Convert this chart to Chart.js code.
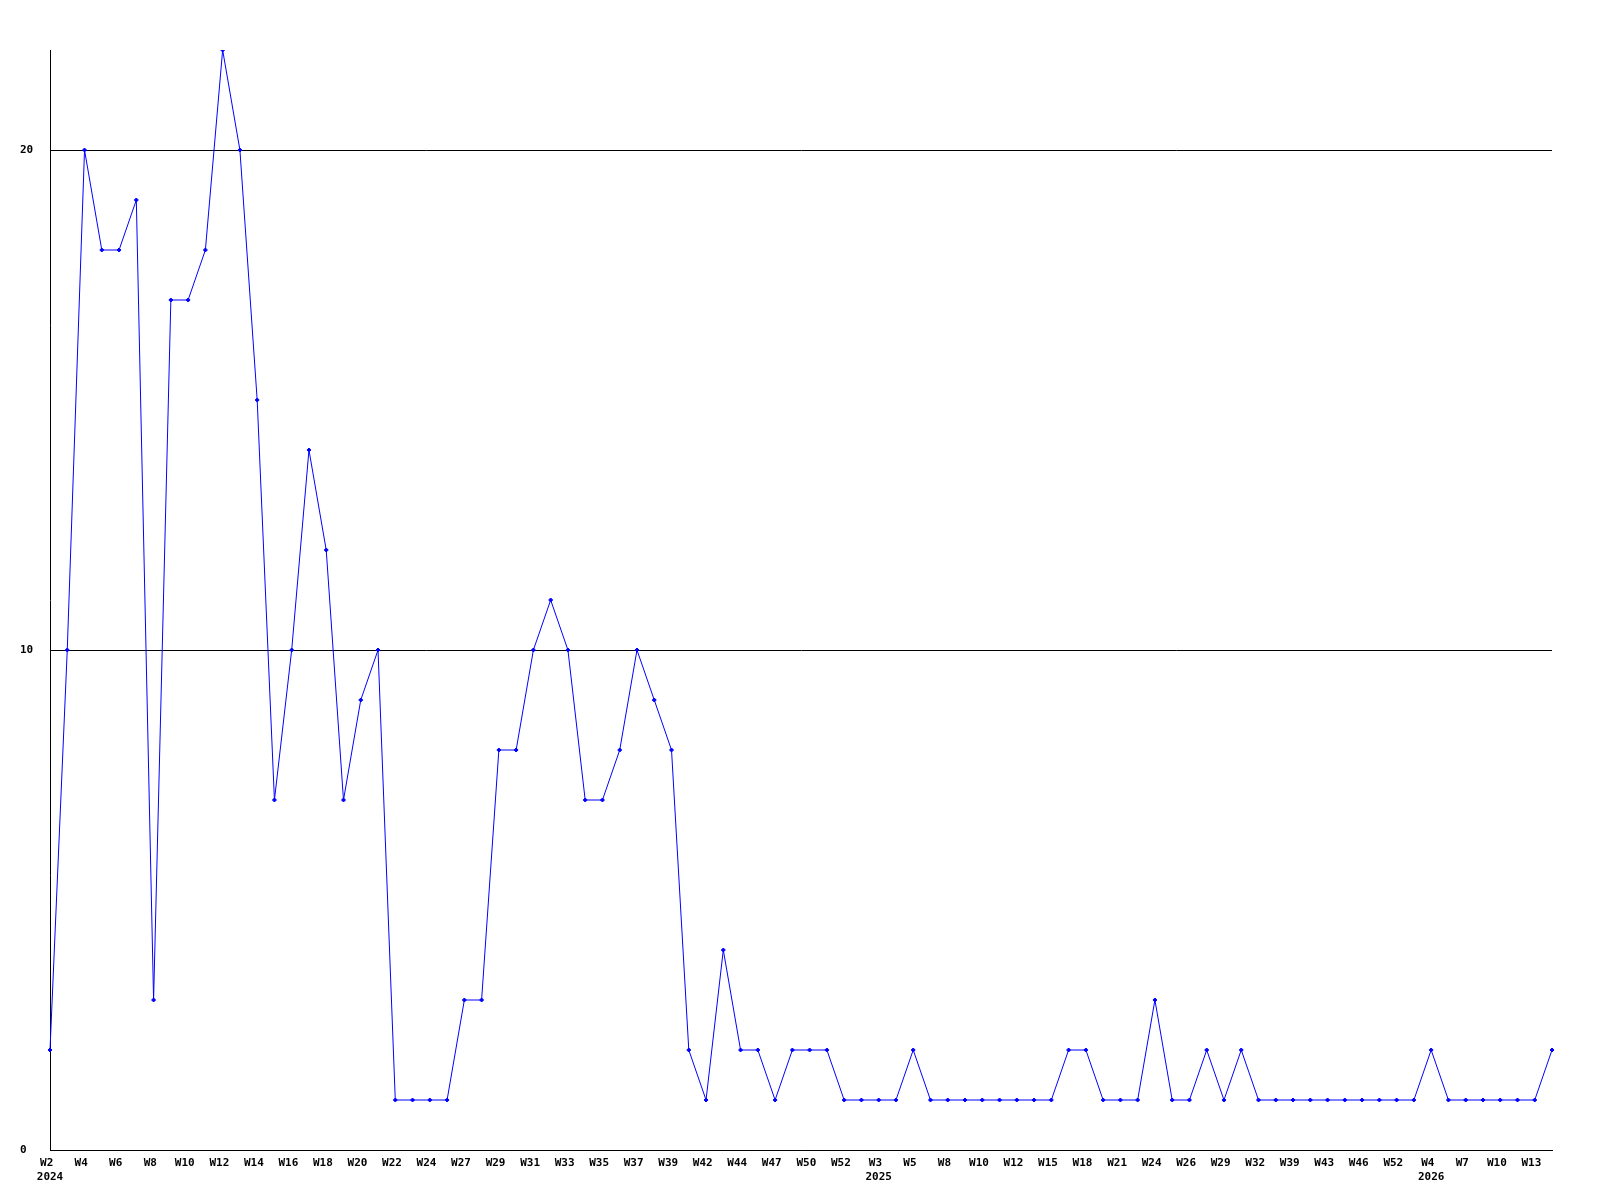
<!DOCTYPE html>
<html>
<head>
<meta charset="utf-8">
<script src="https://cdn.jsdelivr.net/npm/chart.js@4.4.0/dist/chart.umd.min.js"></script>
<style>
  html, body { margin:0; padding:0; background:#fff; }
  canvas { display:block; }
</style>
</head>
<body>
<canvas id="chart" width="1600" height="1200"></canvas>
<script>
// week labels (only every other one is printed on the axis)
const weeks = [
  "W2","W3","W4","W5","W6","W7","W8","W9","W10","W11","W12","W13","W14","W15","W16","W17",
  "W18","W19","W20","W21","W22","W23","W24","W26","W27","W28","W29","W30","W31","W32","W33",
  "W34","W35","W36","W37","W38","W39","W41","W42","W43","W44","W45","W47","W48","W50","W51","W52",
  "W2","W3","W4","W5","W7","W8","W9","W10","W11","W12","W14","W15","W17","W18","W20","W21","W23",
  "W24","W25","W26","W28","W29","W31","W32","W35","W39","W41","W43","W45","W46","W49","W52",
  "W2","W4","W6","W7","W9","W10","W12","W13","W14"
];
// year shown under the first printed label of each year
const yearMarks = { 0: "2024", 48: "2025", 80: "2026" };

const counts = [
  2,10,20,18,18,19,3,17,17,18,22,20,15,7,10,14,12,7,9,10,
  1,1,1,1,3,3,8,8,10,11,
  10,7,7,8,10,9,8,2,1,4,
  2,2,1,2,2,2,1,1,1,1,
  2,1,1,1,1,1,1,1,1,2,
  2,1,1,1,3,1,1,2,1,2,
  1,1,1,1,1,1,1,1,1,1,
  2,1,1,1,1,1,1,2
];

const yTicks = [0, 10, 20];

const tickFont = { family: "'DejaVu Sans Mono', monospace", weight: "bold", size: 11 };

new Chart(document.getElementById("chart"), {
  type: "line",
  data: {
    labels: weeks,
    datasets: [{
      data: counts,
      borderColor: "#0000ff",
      backgroundColor: "#0000ff",
      borderWidth: 1,
      tension: 0,
      pointStyle: "rectRot",
      pointRadius: 2,
      pointBorderWidth: 1,
      fill: false
    }]
  },
  options: {
    responsive: false,
    animation: false,
    layout: { padding: { top: 50, right: 48, left: 20, bottom: 0 } },
    plugins: { legend: { display: false }, tooltip: { enabled: false } },
    scales: {
      x: {
        offset: false,
        grid: { display: false, drawTicks: false },
        border: { display: true, color: "#000", width: 1 },
        ticks: {
          autoSkip: false,
          maxRotation: 0,
          minRotation: 0,
          padding: 7,
          color: "#000",
          font: tickFont,
          callback: (v, i) => {
            if (i % 2) return "";
            // trailing space nudges the week label a bit left of its point
            return yearMarks[i] ? [weeks[i] + " ", yearMarks[i]] : weeks[i] + " ";
          }
        },
        afterFit: s => { s.height = 50; }
      },
      y: {
        min: 0,
        max: 22,
        grid: { color: "#000", lineWidth: 1, drawTicks: false },
        border: { display: true, color: "#000", width: 1 },
        ticks: { padding: 16, color: "#000", font: tickFont, crossAlign: "far" },
        afterBuildTicks: s => { s.ticks = yTicks.map(v => ({ value: v })); },
        afterFit: s => { s.width = 30; }
      }
    }
  }
});
</script>
</body>
</html>
